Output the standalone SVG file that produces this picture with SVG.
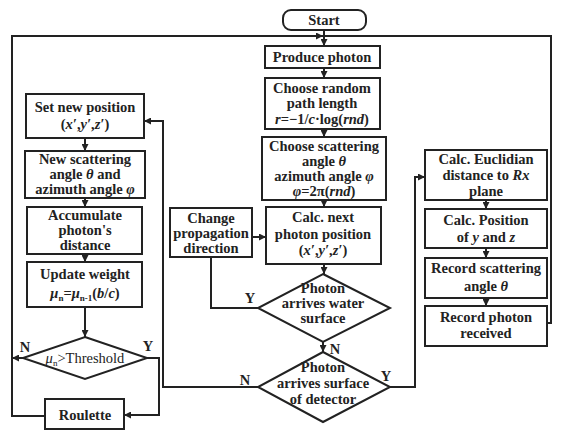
<svg xmlns="http://www.w3.org/2000/svg" width="571" height="444" viewBox="0 0 571 444">
<style>
.b{fill:#fff;stroke:#222;stroke-width:2}
.c{fill:none;stroke:#222;stroke-width:2}
text{font-family:"Liberation Serif","Times New Roman",serif;font-weight:bold;font-size:14.5px;fill:#222;text-anchor:middle}
.i{font-style:italic}
.s{font-size:9px}
</style>
<defs>
<marker id="a" viewBox="0 0 8 8" refX="8" refY="4" markerWidth="7" markerHeight="7" markerUnits="userSpaceOnUse" orient="auto"><path d="M0,0 L8,4 L0,8 Z" fill="#222"/></marker>
</defs>
<rect width="571" height="444" fill="#fff"/>
<g id="connectors">
<path class="c" d="M324,30 V46" marker-end="url(#a)"/>
<path class="c" d="M45,416 H12 V36 H323" marker-end="url(#a)"/>
<path class="c" d="M547,323 H551 V36 H324"/>
<path class="c" d="M324,68 V78" marker-end="url(#a)"/>
<path class="c" d="M324,129 V137" marker-end="url(#a)"/>
<path class="c" d="M324,200 V207" marker-end="url(#a)"/>
<path class="c" d="M252,237 H266" marker-end="url(#a)"/>
<path class="c" d="M324,264 V274" marker-end="url(#a)"/>
<path class="c" d="M258,308 H211 V257"/>
<path class="c" d="M323,342 V352" marker-end="url(#a)"/>
<path class="c" d="M258,387 H163 V121 H144" marker-end="url(#a)"/>
<path class="c" d="M390,387 H415 V177 H425" marker-end="url(#a)"/>
<path class="c" d="M486,200 V209" marker-end="url(#a)"/>
<path class="c" d="M486,248 V258" marker-end="url(#a)"/>
<path class="c" d="M486,298 V306" marker-end="url(#a)"/>
<path class="c" d="M85,138 V151" marker-end="url(#a)"/>
<path class="c" d="M85,198 V207" marker-end="url(#a)"/>
<path class="c" d="M85,254 V262" marker-end="url(#a)"/>
<path class="c" d="M85,307 V337" marker-end="url(#a)"/>
<path class="c" d="M23,358 H12" marker-end="url(#a)"/>
<path class="c" d="M147,358 H159 V415 H124" marker-end="url(#a)"/>
<text x="250" y="303">Y</text>
<text x="335" y="354">N</text>
<text x="245" y="385">N</text>
<text x="386" y="381">Y</text>
<text x="25" y="352">N</text>
<text x="148" y="351">Y</text>
</g>
<g id="start"><rect class="b" x="283" y="10" width="83" height="20" rx="8"/><text x="324" y="25">Start</text></g>
<g id="produce"><rect class="b" x="265" y="46" width="115" height="22"/><text x="322" y="62">Produce photon</text></g>
<g id="random"><rect class="b" x="265" y="78" width="115" height="51"/><text x="322" y="93">Choose random</text><text x="322" y="108">path length</text><text x="322" y="124"><tspan class="i">r</tspan>=−1/<tspan class="i">c</tspan>·log(<tspan class="i">rnd</tspan>)</text></g>
<g id="scatter"><rect class="b" x="262" y="137" width="124" height="63"/><text x="324" y="151">Choose scattering</text><text x="324" y="166">angle <tspan class="i">θ</tspan></text><text x="324" y="181">azimuth angle <tspan class="i">φ</tspan></text><text x="324" y="196"><tspan class="i">φ</tspan>=2π(<tspan class="i">rnd</tspan>)</text></g>
<g id="calcnext"><rect class="b" x="266" y="207" width="115" height="57"/><text x="323" y="222">Calc. next</text><text x="323" y="239">photon position</text><text x="323" y="255">(<tspan class="i">x′</tspan>,<tspan class="i">y′</tspan>,<tspan class="i">z′</tspan>)</text></g>
<g id="change"><rect class="b" x="170" y="208" width="82" height="49"/><text x="211" y="223">Change</text><text x="211" y="238">propagation</text><text x="211" y="253">direction</text></g>
<g id="water"><polygon class="b" points="323,274 390,308 323,342 258,308"/><text x="323" y="293">Photon</text><text x="323" y="308">arrives water</text><text x="323" y="323">surface</text></g>
<g id="detector"><polygon class="b" points="323,352 390,387 323,422 258,387"/><text x="323" y="372">Photon</text><text x="323" y="388">arrives surface</text><text x="323" y="404">of detector</text></g>
<g id="euclid"><rect class="b" x="425" y="150" width="122" height="50"/><text x="486" y="164">Calc. Euclidian</text><text x="486" y="180">distance to <tspan class="i">Rx</tspan></text><text x="486" y="196">plane</text></g>
<g id="position"><rect class="b" x="425" y="209" width="122" height="39"/><text x="486" y="225">Calc. Position</text><text x="486" y="242">of <tspan class="i">y</tspan> and <tspan class="i">z</tspan></text></g>
<g id="recscat"><rect class="b" x="425" y="258" width="122" height="40"/><text x="486" y="273">Record scattering</text><text x="486" y="291">angle <tspan class="i">θ</tspan></text></g>
<g id="recphoton"><rect class="b" x="425" y="306" width="122" height="40"/><text x="486" y="322">Record photon</text><text x="486" y="338">received</text></g>
<g id="setpos"><rect class="b" x="26" y="94" width="118" height="44"/><text x="85" y="112">Set new position</text><text x="85" y="129">(<tspan class="i">x′</tspan>,<tspan class="i">y′</tspan>,<tspan class="i">z′</tspan>)</text></g>
<g id="newscat"><rect class="b" x="25" y="151" width="120" height="47"/><text x="85" y="164">New scattering</text><text x="85" y="179">angle <tspan class="i">θ</tspan> and</text><text x="85" y="194">azimuth angle <tspan class="i">φ</tspan></text></g>
<g id="accum"><rect class="b" x="27" y="207" width="115" height="47"/><text x="85" y="220">Accumulate</text><text x="85" y="235">photon's</text><text x="85" y="250">distance</text></g>
<g id="update"><rect class="b" x="27" y="262" width="115" height="45"/><text x="85" y="279">Update weight</text><text x="85" y="298"><tspan class="i">μ</tspan><tspan class="s" dy="3">n</tspan><tspan dy="-3">=</tspan><tspan class="i">μ</tspan><tspan class="s" dy="3">n-1</tspan><tspan dy="-3">(</tspan><tspan class="i">b</tspan>/<tspan class="i">c</tspan>)</text></g>
<g id="threshold"><polygon class="b" points="85,337 147,358 85,379 23,358"/><text x="85" y="363" style="font-weight:normal"><tspan class="i">μ</tspan><tspan class="s" dy="3">n</tspan><tspan dy="-3">&gt;Threshold</tspan></text></g>
<g id="roulette"><rect class="b" x="45" y="399" width="79" height="30"/><text x="85" y="420">Roulette</text></g>
</svg>
